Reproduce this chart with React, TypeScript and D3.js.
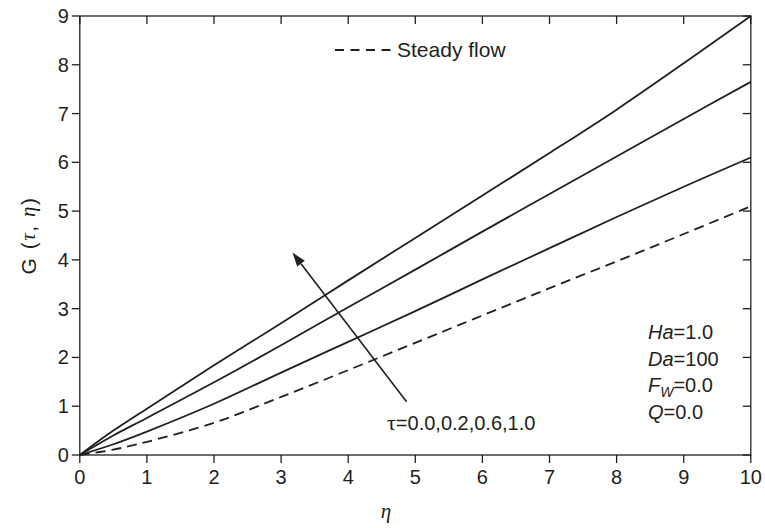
import React from "react";
import * as d3 from "d3";

const etaValues = [0, 0.5, 1, 2, 3, 4, 5, 6, 7, 8, 9, 10];
const gTau10 = [0, 0.5, 0.95, 1.84, 2.7, 3.58, 4.45, 5.32, 6.19, 7.08, 8.03, 9.0];
const gTau06 = [0, 0.4, 0.76, 1.49, 2.25, 3.03, 3.8, 4.58, 5.35, 6.12, 6.89, 7.65];
const gTau02 = [0, 0.22, 0.48, 1.05, 1.69, 2.32, 2.95, 3.6, 4.24, 4.88, 5.5, 6.1];
const gSteady = [0, 0.11, 0.27, 0.66, 1.19, 1.74, 2.3, 2.86, 3.42, 3.97, 4.53, 5.1];
const xTicks = [0, 1, 2, 3, 4, 5, 6, 7, 8, 9, 10];
const yTicks = [0, 1, 2, 3, 4, 5, 6, 7, 8, 9];
const paramLabels = [
  { it: "Ha", rest: "=1.0" },
  { it: "Da", rest: "=100" },
  { it: "F", sub: "W", rest: "=0.0" },
  { it: "Q", rest: "=0.0" },
];

const W = 765;
const H = 528;
const C = "#231f20";
const FONT = "'Liberation Sans', Arial, Helvetica, sans-serif";
const SERIF = "'Liberation Serif', 'Times New Roman', serif";

export default function App() {
  const x = d3.scaleLinear().domain([0, 10]).range([79.8, 750.8]);
  const y = d3.scaleLinear().domain([0, 9]).range([455, 16]);
  const line = d3
    .line<number>()
    .x((_, i) => x(etaValues[i]))
    .y((d) => y(d))
    .curve(d3.curveCatmullRom.alpha(0.5));

  const solid = [gTau02, gTau06, gTau10];
  const [x0, x1] = x.range();
  const [y0, y1] = y.range();
  const tl = 8;

  const aTail = [4.87, 1.09];
  const aTip = [3.17, 4.15];
  const tx = x(aTail[0]), ty = y(aTail[1]);
  const hx = x(aTip[0]), hy = y(aTip[1]);
  const ang = Math.atan2(hy - ty, hx - tx);
  const hl = 14, hw = 4.8;
  const bx = hx - hl * Math.cos(ang), by = hy - hl * Math.sin(ang);
  const head = [
    [hx, hy],
    [bx + hw * Math.sin(ang), by - hw * Math.cos(ang)],
    [bx - hw * Math.sin(ang), by + hw * Math.cos(ang)],
  ];

  return (
    <svg
      width={W}
      height={H}
      style={{ position: "absolute", left: 0, top: 0, background: "#fff" }}
      fontFamily={FONT}
    >
      <rect x={0} y={0} width={W} height={H} fill="#fff" />
      <rect x={x0} y={y1} width={x1 - x0} height={y0 - y1} fill="none" stroke={C} strokeWidth={1.3} />
      {xTicks.map((t) => (
        <g key={"xt" + t}>
          <line x1={x(t)} x2={x(t)} y1={y0} y2={y0 + tl} stroke={C} strokeWidth={1.3} />
          <line x1={x(t)} x2={x(t)} y1={y1} y2={y1 + tl} stroke={C} strokeWidth={1.3} />
          <text x={x(t)} y={y0 + 22} textAnchor="middle" dominantBaseline="central" fontSize={20} fill={C}>
            {t}
          </text>
        </g>
      ))}
      {yTicks.map((t) => (
        <g key={"yt" + t}>
          <line x1={x0 - tl} x2={x0} y1={y(t)} y2={y(t)} stroke={C} strokeWidth={1.3} />
          <line x1={x1 - tl} x2={x1} y1={y(t)} y2={y(t)} stroke={C} strokeWidth={1.3} />
          <text x={x0 - 11} y={y(t)} textAnchor="end" dominantBaseline="central" fontSize={20} fill={C}>
            {t}
          </text>
        </g>
      ))}
      <text x={386} y={511} textAnchor="middle" dominantBaseline="central" fontSize={21} fontStyle="italic" fontFamily={SERIF} fill={C}>
        η
      </text>
      <text
        transform={`translate(28, ${(y0 + y1) / 2}) rotate(-90)`}
        textAnchor="middle"
        dominantBaseline="central"
        fontSize={21}
        letterSpacing={1.5}
        fill={C}
      >
        G (
        <tspan fontFamily={SERIF} fontStyle="italic">τ</tspan>,{" "}
        <tspan fontFamily={SERIF} fontStyle="italic">η</tspan>)
      </text>

      {solid.map((s, i) => (
        <path key={"s" + i} d={line(s) || ""} fill="none" stroke={C} strokeWidth={1.8} />
      ))}
      <path d={line(gSteady) || ""} fill="none" stroke={C} strokeWidth={1.8} strokeDasharray="10,6" />

      <line x1={335} x2={391} y1={50} y2={50} stroke={C} strokeWidth={1.8} strokeDasharray="9,6.5" />
      <text x={397} y={57} fontSize={21} fill={C}>
        Steady flow
      </text>

      <line x1={tx} y1={ty} x2={bx} y2={by} stroke={C} strokeWidth={1.6} />
      <polygon points={head.map((p) => p.join(",")).join(" ")} fill={C} />
      <text x={387} y={430} fontSize={20} fill={C}>
        <tspan fontFamily={SERIF} fontSize={22}>τ</tspan>=0.0,0.2,0.6,1.0
      </text>

      {paramLabels.map((p, i) => (
        <text key={"p" + i} x={648} y={339 + i * 26.5} fontSize={20} fill={C}>
          <tspan fontStyle="italic">{p.it}</tspan>
          {p.sub ? (
            <tspan fontStyle="italic" fontSize={14} dy={5}>
              {p.sub}
            </tspan>
          ) : null}
          <tspan dy={p.sub ? -5 : 0}>{p.rest}</tspan>
        </text>
      ))}
    </svg>
  );
}
